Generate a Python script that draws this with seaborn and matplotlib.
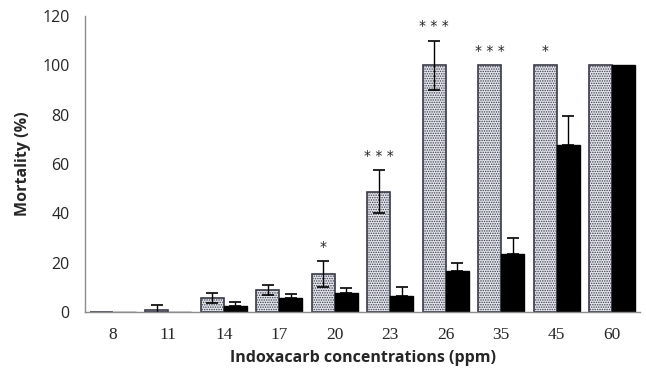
import matplotlib
matplotlib.use("Agg")
import matplotlib.pyplot as plt
import numpy as np
import pandas as pd
import seaborn as sns

# data
concentrations = ["8", "11", "14", "17", "20", "23", "26", "35", "45", "60"]
light_mortality = [0, 0.8, 5.7, 8.8, 15.4, 48.8, 100, 100, 100, 100]
light_err = [0, 2.2, 2.0, 2.0, 5.1, 8.6, 10.0, 0, 0, 0]
dark_mortality = [0, 0, 2.4, 5.5, 7.7, 6.6, 16.6, 23.4, 67.7, 100]
dark_err = [0, 0, 1.6, 1.9, 2.0, 3.5, 3.4, 6.6, 11.7, 0]
significance = ["", "", "", "", "*", "***", "***", "***", "*", ""]

df = pd.DataFrame({
    "conc": concentrations * 2,
    "mortality": light_mortality + dark_mortality,
    "group": ["light"] * len(concentrations) + ["dark"] * len(concentrations),
})

sns.set_style("white")
plt.rcParams["hatch.linewidth"] = 0.7

fig = plt.figure(figsize=(6.46, 3.77), dpi=100)
ax = fig.add_axes([0.1316, 0.1724, 0.8591, 0.7852])

sns.barplot(data=df, x="conc", y="mortality", hue="group", order=concentrations,
            hue_order=["light", "dark"], palette={"light": "#e2e5ef", "dark": "black"},
            width=0.83, errorbar=None, legend=False, ax=ax)

light_bars, dark_bars = ax.containers[0], ax.containers[1]
for bar in light_bars:
    bar.set_edgecolor("#3a3a48")
    bar.set_linewidth(1.2)
    bar.set_hatch(".......")
for bar in dark_bars:
    bar.set_edgecolor("black")
    bar.set_linewidth(1.0)

lx = np.array([b.get_x() + b.get_width() / 2 for b in light_bars])
dx = np.array([b.get_x() + b.get_width() / 2 for b in dark_bars])
lv, le = np.array(light_mortality), np.array(light_err)
dv, de = np.array(dark_mortality), np.array(dark_err)

m = le > 0
ax.errorbar(lx[m], lv[m], yerr=le[m], fmt="none", ecolor="black", elinewidth=1.0, capsize=4, capthick=1.2)
m = de > 0
ax.errorbar(dx[m], dv[m], yerr=[np.zeros(m.sum()), de[m]], fmt="none", ecolor="black",
            elinewidth=1.0, capsize=4, capthick=1.2)

for x, v, e, s in zip(lx, lv, le, significance):
    if s:
        ax.text(x, v + e + 3, " ".join(s), ha="center", va="bottom", fontsize=10,
                family="DejaVu Sans", color="#222222")

ax.set_ylim(0, 120)
ax.set_yticks(range(0, 121, 20))
ax.set_xlim(-0.5, len(concentrations) - 0.5)
sns.despine(ax=ax)
for side in ["left", "bottom"]:
    ax.spines[side].set_color("#8c8c8c")
    ax.spines[side].set_linewidth(1.0)
ax.tick_params(axis="y", direction="out", length=5, color="#8c8c8c", width=1, pad=6)
ax.tick_params(axis="x", length=0, pad=11)
for lab in ax.get_yticklabels():
    lab.set_family("Open Sans")
    lab.set_fontsize(11.5)
for lab in ax.get_xticklabels():
    lab.set_family("Liberation Serif")
    lab.set_fontsize(12.5)

ax.set_xlabel("Indoxacarb concentrations (ppm)", family="Open Sans", fontweight="bold",
              fontsize=11.5, labelpad=5)
ax.set_ylabel("Mortality (%)", family="Open Sans", fontweight="bold", fontsize=11.5, labelpad=8)

fig.savefig("out.png", dpi=100)
